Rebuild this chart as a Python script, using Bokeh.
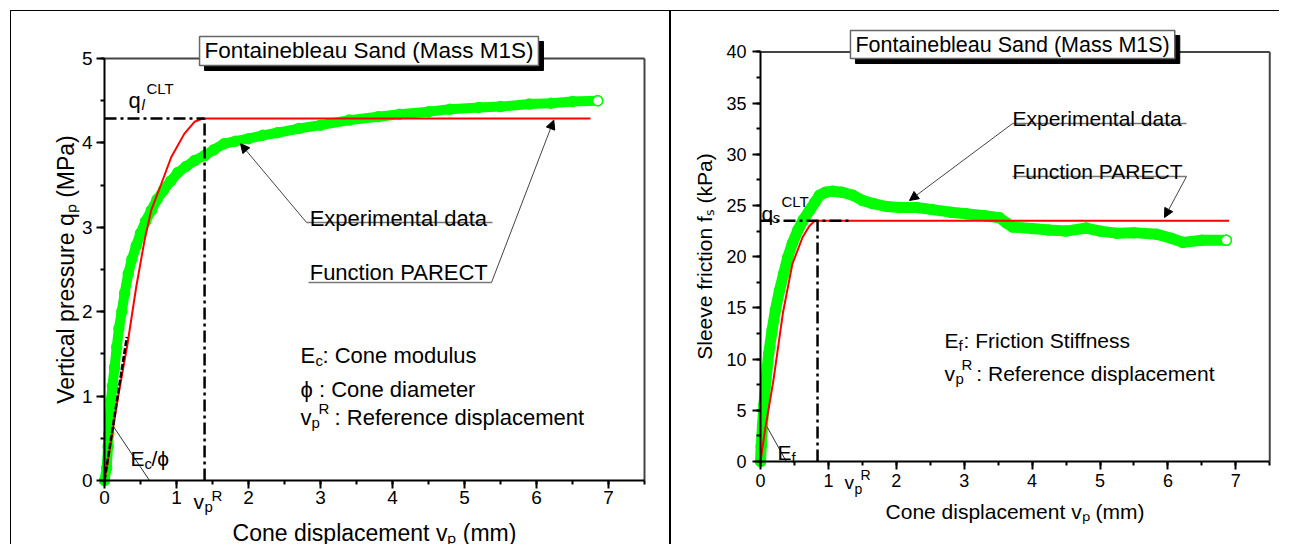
from bokeh.plotting import figure
from bokeh.models import Range1d, SingleIntervalTicker, Label, Arrow, NormalHead, LinearAxis
from bokeh.layouts import row
from bokeh.embed import file_html
from bokeh.resources import INLINE

FONT = "Liberation Sans"
GREEN = "#00ff00"
RED = "#ff0000"

# ---------------- data: left panel (cone resistance) ----------------
left_title = "Fontainebleau Sand (Mass M1S)"
left_exp_x = [0.0, 0.03, 0.05, 0.06, 0.07, 0.09, 0.11, 0.14, 0.17, 0.2, 0.24, 0.28, 0.33,
              0.38, 0.44, 0.5, 0.57, 0.65, 0.73, 0.82, 0.92, 1.02, 1.13, 1.25, 1.39, 1.52,
              1.66, 1.82, 2.0, 2.2, 2.4, 2.7, 3.0, 3.4, 3.8, 4.1, 4.5, 4.8, 5.2, 5.5, 5.9,
              6.2, 6.5, 6.85]
left_exp_y = [0.0, 0.15, 0.4, 0.55, 0.7, 0.95, 1.12, 1.34, 1.58, 1.8, 2.0, 2.22, 2.45,
              2.62, 2.78, 2.93, 3.07, 3.2, 3.33, 3.44, 3.55, 3.65, 3.72, 3.79, 3.85, 3.92,
              3.99, 4.02, 4.05, 4.09, 4.12, 4.17, 4.21, 4.27, 4.31, 4.34, 4.37, 4.40, 4.42,
              4.43, 4.46, 4.47, 4.49, 4.50]
left_fit_x = [0.0, 0.07, 0.185, 0.32, 0.44, 0.555, 0.648, 0.787, 0.926, 1.11, 1.25, 1.37, 6.75]
left_fit_y = [0.0, 0.35, 0.97, 1.62, 2.29, 2.84, 3.20, 3.51, 3.83, 4.11, 4.25, 4.29, 4.29]
left_tangent_x = [0.0, 0.31]
left_tangent_y = [0.0, 1.70]
left_q_lim = 4.29
left_v_ref = 1.39
left_x_max = 7.5
left_y_max = 5

# ---------------- data: right panel (sleeve friction) ----------------
right_title = "Fontainebleau Sand (Mass M1S)"
right_exp_x = [0.0, 0.01, 0.03, 0.05, 0.08, 0.12, 0.17, 0.22, 0.28, 0.34, 0.4, 0.47, 0.55,
               0.63, 0.72, 0.8, 0.87, 0.96, 1.06, 1.2, 1.36, 1.5, 1.65, 1.86, 2.05, 2.3,
               2.53, 2.8, 3.03, 3.3, 3.52, 3.62, 3.71, 4.0, 4.25, 4.5, 4.8, 5.0, 5.24,
               5.5, 5.83, 6.05, 6.22, 6.5, 6.86]
right_exp_y = [0.0, 1.5, 3.5, 5.5, 8.0, 10.5, 12.8, 14.8, 16.7, 18.3, 19.9, 21.3, 22.6,
               23.6, 24.5, 25.3, 26.0, 26.3, 26.4, 26.3, 26.0, 25.5, 25.2, 24.9, 24.8, 24.8,
               24.6, 24.35, 24.2, 24.0, 23.8, 23.3, 22.9, 22.75, 22.6, 22.5, 22.8, 22.5, 22.3,
               22.35, 22.2, 21.8, 21.4, 21.6, 21.6]
right_fit_x = [0.0, 0.065, 0.19, 0.33, 0.47, 0.62, 0.72, 0.8, 6.9]
right_fit_y = [0.0, 3.0, 7.9, 14.5, 19.3, 21.9, 23.0, 23.5, 23.5]
right_q_lim = 23.5
right_v_ref = 0.84
right_x_max = 7.5
right_y_max = 40

x_label = "Cone displacement v\u209a (mm)"
left_y_label = "Vertical pressure q\u209a (MPa)"
right_y_label = "Sleeve friction f\u209b (kPa)"
NB = "\u00a0"


def lab(p, x, y, text, size, dx=0, dy=0, align="left", baseline="alphabetic", style="normal"):
    p.add_layout(Label(x=x, y=y, text=text, text_font=FONT, text_font_size=f"{size}px",
                       x_offset=dx, y_offset=dy, text_align=align, text_baseline=baseline,
                       text_font_style=style, text_color="black"))


def title_box(p, x, y, text, size):
    pad = dict(left=5, right=5, top=2, bottom=2)
    p.add_layout(Label(x=x, y=y, text=text, text_font=FONT, text_font_size=f"{size}px",
                       text_align="left", text_baseline="middle", x_offset=5, y_offset=-5,
                       text_color="black", background_fill_color="black",
                       border_line_color="black", padding=pad))
    p.add_layout(Label(x=x, y=y, text=text, text_font=FONT, text_font_size=f"{size}px",
                       text_align="left", text_baseline="middle", text_color="black",
                       background_fill_color="white", border_line_color="#666666",
                       border_line_width=1.5, padding=pad))


def style_axis(ax, tick_size, label_size, label_std, axis_std):
    ax.axis_line_width = 2
    ax.axis_line_color = "black"
    ax.major_tick_line_width = 2
    ax.minor_tick_line_width = 2
    ax.major_tick_out = 8
    ax.major_tick_in = 0
    ax.minor_tick_out = 4
    ax.minor_tick_in = 0
    ax.major_label_text_font = FONT
    ax.major_label_text_font_size = f"{tick_size}px"
    ax.major_label_text_color = "black"
    ax.major_label_standoff = label_std
    ax.axis_label_text_font = FONT
    ax.axis_label_text_font_size = f"{label_size}px"
    ax.axis_label_text_font_style = "normal"
    ax.axis_label_text_color = "black"
    ax.axis_label_standoff = axis_std


def make_fig(width, height, xr, yr, xmax, ymax, yint, styles):
    p = figure(width=width, height=height, x_range=Range1d(*xr), y_range=Range1d(*yr),
               x_axis_type=None, y_axis_type=None,
               output_backend="svg", toolbar_location=None, min_border=0,
               min_border_left=0, min_border_right=0, min_border_top=0, min_border_bottom=0,
               background_fill_color="white", border_fill_color="white")
    p.styles = styles
    p.outline_line_color = None
    p.xgrid.visible = False
    p.ygrid.visible = False
    xa = LinearAxis(fixed_location=0, bounds=(0, xmax),
                    ticker=SingleIntervalTicker(interval=1, num_minor_ticks=2))
    ya = LinearAxis(fixed_location=0, bounds=(0, ymax),
                    ticker=SingleIntervalTicker(interval=yint, num_minor_ticks=2))
    p.add_layout(xa, "below")
    p.add_layout(ya, "left")
    # closing frame (top and right edges)
    p.line([0, xmax], [ymax, ymax], line_color="#444444", line_width=2)
    p.line([xmax, xmax], [0, ymax], line_color="#444444", line_width=2)
    return p, xa, ya


# ====================== LEFT PANEL ======================
# canvas 659 x 534 ; x=0 at 93 px, 72 px/unit ; y=0 at 469 px from top, 84.4 px/unit
p1, xa1, ya1 = make_fig(659, 534, (-93 / 72, 566 / 72), (-65 / 84.4, 469 / 84.4),
                        left_x_max, left_y_max, 1,
                        {"border-top": "1px solid black", "border-left": "1px solid black"})
style_axis(xa1, 19, 23, 2, 13)
style_axis(ya1, 19, 23, 4, 0)
xa1.axis_label = x_label
ya1.axis_label = left_y_label

p1.line(left_exp_x, left_exp_y, line_color=GREEN, line_width=10, line_cap="round", line_join="round")
p1.scatter(left_exp_x, left_exp_y, marker="circle", size=10, fill_color=None,
           line_color=GREEN, line_width=1.5)
p1.scatter(left_exp_x[-1:], left_exp_y[-1:], marker="circle", size=10, fill_color="white",
           line_color=GREEN, line_width=1.5)
p1.line(left_fit_x, left_fit_y, line_color=RED, line_width=2)
p1.line(left_tangent_x, left_tangent_y, line_color="black", line_width=2.5, line_dash="6 2")
p1.line([0, left_v_ref], [left_q_lim, left_q_lim], line_color="black", line_width=2.5,
        line_dash="12 4 3 4")
p1.line([left_v_ref, left_v_ref], [0, left_q_lim], line_color="black", line_width=2.5,
        line_dash="12 4 3 4")

# leaders & underlines
p1.segment(x0=[2.806, 2.833], y0=[3.057, 2.346], x1=[5.389, 5.375], y1=[3.057, 2.346],
           line_color="#777777", line_width=1.5)
p1.add_layout(Arrow(end=NormalHead(size=9, line_color="black", fill_color="black"),
                    x_start=2.806, y_start=3.057, x_end=1.889, y_end=3.99,
                    line_color="#444444", line_width=1))
p1.add_layout(Arrow(end=NormalHead(size=9, line_color="black", fill_color="black"),
                    x_start=5.375, y_start=2.346, x_end=6.24, y_end=4.27,
                    line_color="#444444", line_width=1))
p1.segment(x0=[0.116], y0=[0.65], x1=[0.625], y1=[0.0], line_color="#333333", line_width=1)

title_box(p1, 1.32, 5.089, left_title, 22.5)
lab(p1, 2.85, 3.104, "Experimental data", 22)
lab(p1, 2.85, 2.464, "Function PARECT", 22)
# q_l^CLT
lab(p1, 0.333, 4.502, "q", 22)
lab(p1, 0.333, 4.502, "l", 15, dx=13, dy=-4, style="italic")
lab(p1, 0.333, 4.502, "CLT", 15, dx=18, dy=12)
# E_c / phi
lab(p1, 0.361, 0.26, "E", 21)
lab(p1, 0.361, 0.26, "c", 15, dx=14, dy=-5)
lab(p1, 0.361, 0.26, "/\u03d5", 21, dx=21)
# v_p^R on axis
lab(p1, 1.236, 0.0, "v", 21, dy=-21)
lab(p1, 1.236, 0.0, "p", 15, dx=11, dy=-26)
lab(p1, 1.236, 0.0, "R", 15, dx=18, dy=-15)
# legend block
lab(p1, 2.722, 1.481, "E", 22)
lab(p1, 2.722, 1.481, "c", 15, dx=15, dy=-5)
lab(p1, 2.722, 1.481, ": Cone modulus", 22, dx=22)
lab(p1, 2.722, 1.078, "\u03d5 : Cone diameter", 22)
lab(p1, 2.722, 0.746, "v", 22)
lab(p1, 2.722, 0.746, "p", 15, dx=11, dy=-5)
lab(p1, 2.722, 0.746, "R", 15, dx=18, dy=9)
lab(p1, 2.722, 0.746, NB + ": Reference displacement", 22, dx=28)

# ====================== RIGHT PANEL ======================
# canvas 610 x 534 ; x=0 at 89 px, 67.9 px/unit ; y=0 at 450 px from top, 10.24 px/unit
p2, xa2, ya2 = make_fig(610, 534, (-89 / 67.9, 521 / 67.9), (-84 / 10.24, 450 / 10.24),
                        right_x_max, right_y_max, 5,
                        {"border-top": "1px solid black", "border-left": "2px solid black"})
style_axis(xa2, 18, 21, 4, 10)
style_axis(ya2, 18, 21, 6, 7)
xa2.axis_label = x_label
ya2.axis_label = right_y_label

p2.line(right_exp_x, right_exp_y, line_color=GREEN, line_width=11, line_cap="round", line_join="round")
p2.scatter(right_exp_x, right_exp_y, marker="circle", size=10, fill_color=None,
           line_color=GREEN, line_width=1.5)
p2.scatter(right_exp_x[-1:], right_exp_y[-1:], marker="circle", size=10, fill_color="white",
           line_color=GREEN, line_width=1.5)
p2.line(right_fit_x, right_fit_y, line_color=RED, line_width=2)
p2.line([0, 1.355], [right_q_lim, right_q_lim], line_color="black", line_width=2.5,
        line_dash="12 4 3 4")
p2.line([right_v_ref, right_v_ref], [0, right_q_lim], line_color="black", line_width=2.5,
        line_dash="12 4 3 4")

p2.segment(x0=[3.711, 3.711], y0=[33.0, 27.83], x1=[6.274, 6.274], y1=[33.0, 27.83],
           line_color="#777777", line_width=1.5)
p2.add_layout(Arrow(end=NormalHead(size=9, line_color="black", fill_color="black"),
                    x_start=3.711, y_start=33.0, x_end=2.194, y_end=25.49,
                    line_color="#444444", line_width=1))
p2.add_layout(Arrow(end=NormalHead(size=9, line_color="black", fill_color="black"),
                    x_start=6.274, y_start=27.83, x_end=5.95, y_end=23.83,
                    line_color="#444444", line_width=1))
p2.segment(x0=[0.1], y0=[3.35], x1=[0.38], y1=[0.0], line_color="#333333", line_width=1)

title_box(p2, 1.325, 40.72, right_title, 21.5)
lab(p2, 3.711, 33.5, "Experimental data", 21)
lab(p2, 3.711, 28.32, "Function PARECT", 21)
# q_s^CLT
lab(p2, 0.015, 24.22, "q", 21)
lab(p2, 0.015, 24.22, "s", 15, dx=11, dy=-4, style="italic")
lab(p2, 0.015, 24.22, "CLT", 15, dx=20, dy=12)
# E_f
lab(p2, 0.25, 0.88, "E", 21)
lab(p2, 0.25, 0.88, "f", 15, dx=14, dy=-5)
# v_p^R on axis
lab(p2, 1.237, 0.0, "v", 19, dy=-21)
lab(p2, 1.237, 0.0, "p", 14, dx=10, dy=-27)
lab(p2, 1.237, 0.0, "R", 14, dx=16, dy=-13)
# legend block
lab(p2, 2.71, 11.82, "E", 21)
lab(p2, 2.71, 11.82, "f", 15, dx=14, dy=-5)
lab(p2, 2.71, 11.82, ": Friction Stiffness", 21, dx=19)
lab(p2, 2.71, 8.59, "v", 21)
lab(p2, 2.71, 8.59, "p", 15, dx=11, dy=-5)
lab(p2, 2.71, 8.59, "R", 15, dx=17, dy=9)
lab(p2, 2.71, 8.59, NB + ": Reference displacement", 21, dx=26)

layout = row(p1, p2, spacing=0, margin=(10, 0, 0, 10))
open("out.html", "w").write(file_html(layout, INLINE))
